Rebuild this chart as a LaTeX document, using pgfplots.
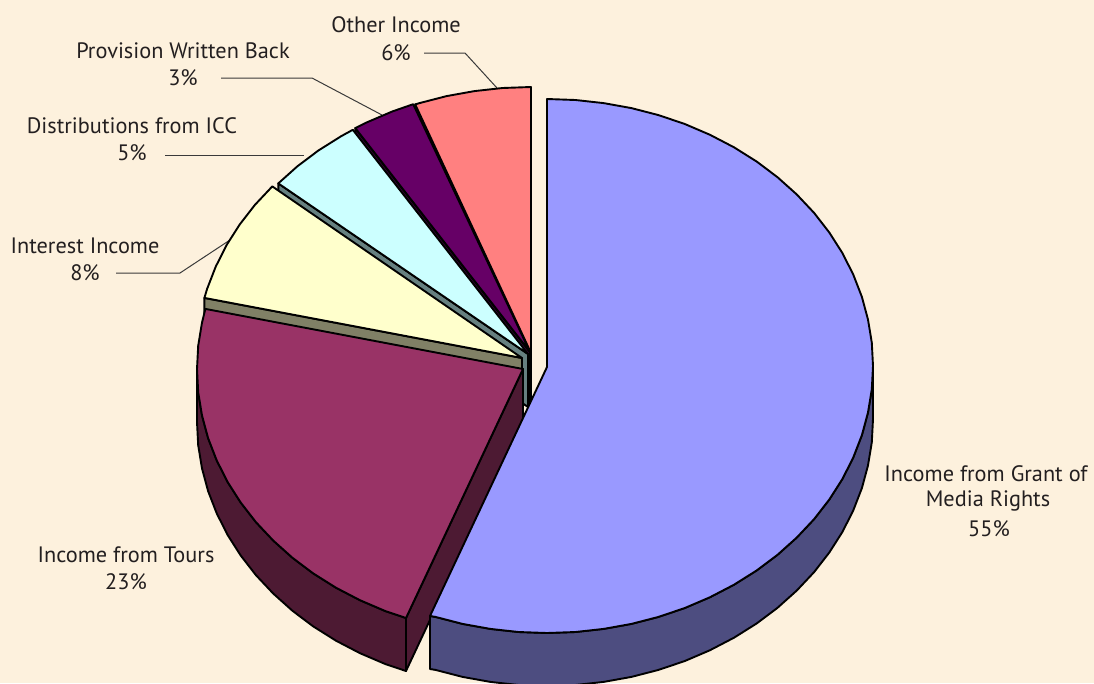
\documentclass[border=0pt]{standalone}
\usepackage{fontspec}
\setmainfont{PT Sans}
\usepackage{pgfplots}
\pgfplotsset{compat=1.18}
\definecolor{bg}{HTML}{FDF1DD}
\definecolor{txt}{HTML}{231F20}
\definecolor{otherT}{HTML}{FF8080}
\definecolor{otherS}{HTML}{804040}
\definecolor{provT}{HTML}{660066}
\definecolor{provS}{HTML}{330033}
\definecolor{distT}{HTML}{CCFFFF}
\definecolor{distS}{HTML}{668080}
\definecolor{intT}{HTML}{FFFFCC}
\definecolor{intS}{HTML}{808066}
\definecolor{tourT}{HTML}{993366}
\definecolor{tourS}{HTML}{4D1A33}
\definecolor{blueT}{HTML}{9999FF}
\definecolor{blueS}{HTML}{4D4D80}
\definecolor{lead}{HTML}{3A3A3A}
\tikzset{lab/.style={font=\fontsize{22.3}{26}\selectfont,text=txt,inner sep=0pt,anchor=center}}
\begin{document}
\begin{tikzpicture}
\fill[bg] (0,0) rectangle (1094pt,683pt);
\begin{axis}[at={(0,0)},anchor=south west,scale only axis,width=1094pt,height=683pt,
  xmin=0,xmax=1094,ymin=0,ymax=683,y dir=reverse,hide axis,
  every axis plot/.append style={line width=1.9pt,line join=round,no markers}]
% leader lines
\addplot[draw=lead,line width=1pt] coordinates {(424,53)(465,53)(497,88)};
\addplot[draw=lead,line width=1pt] coordinates {(221,78)(312,78)(382,115)};
\addplot[draw=lead,line width=1pt] coordinates {(165,155)(304,155)};
\addplot[draw=lead,line width=1pt] coordinates {(116,273)(180,273)(230,240)};
% Other Income
\addplot[fill=otherS,draw=black] coordinates {(415.2,104.4)(531,353)(531,406)(415.2,157.4)} -- cycle;
\addplot[fill=otherT,draw=black] coordinates {(531,353)(415.2,104.4)(419.5,103.1)(446.6,96.1)(474.4,91.1)(502.6,88)(531,87)} -- cycle;
% Provision Written Back
\addplot[fill=provS,draw=black] coordinates {(355.3,128.1)(530,352)(530,405)(355.3,181.1)} -- cycle;
\addplot[fill=provT,draw=black] coordinates {(530,352)(355.3,128.1)(367,122.3)(392.2,111.5)(413.2,104.2)} -- cycle;
% Distributions from ICC
\addplot[fill=distS,draw=black] coordinates {(278.3,183.4)(528,354)(528,407)(278.3,236.4)} -- cycle;
\addplot[fill=distT,draw=black] coordinates {(528,354)(278.3,183.4)(297.5,166.2)(318.4,150.5)(341,136.3)(352.8,129.8)} -- cycle;
% Interest Income
\addplot[fill=intS,draw=black] coordinates {(204.4,297.9)(522,358)(522,411)(204.4,350.9)} -- cycle;
\addplot[fill=intT,draw=black] coordinates {(522,358)(204.4,297.9)(207.1,288.9)(215.7,266.7)(226.5,245.2)(239.7,224.5)(254.9,204.9)(272.3,186.4)} -- cycle;
% Income from Tours
\addplot[fill=tourS,draw=black] coordinates {(523,369)(406,618)(406,671)(523,422)} -- cycle;
\addplot[fill=tourS,draw=black] coordinates {(406,618)(385.2,611)(360,600.2)(336,587.7)(313.4,573.5)(292.5,557.8)(273.3,540.6)(255.9,522.1)(240.7,502.5)(227.5,481.8)(216.7,460.3)(208.1,438.1)(202,415.4)(198.2,392.3)(197,369)
 (197,422)(198.2,445.3)(202,468.4)(208.1,491.1)(216.7,513.3)(227.5,534.8)(240.7,555.5)(255.9,575.1)(273.3,593.6)(292.5,610.8)(313.4,626.5)(336,640.7)(360,653.2)(385.2,664)(406,671)} -- cycle;
\addplot[fill=tourT,draw=black] coordinates {(523,369)(406,618)(385.2,611)(360,600.2)(336,587.7)(313.4,573.5)(292.5,557.8)(273.3,540.6)(255.9,522.1)(240.7,502.5)(227.5,481.8)(216.7,460.3)(208.1,438.1)(202,415.4)(198.2,392.3)(197,369)(198.2,345.7)(202,322.6)(205.4,308.9)} -- cycle;
% Income from Grant of Media Rights
\addplot[fill=blueS,draw=black] coordinates {(873,366)(871.8,389.3)(868,412.4)(861.9,435.1)(853.3,457.3)(842.5,478.8)(829.3,499.5)(814.1,519.1)(796.7,537.6)(777.5,554.8)(756.6,570.5)(734,584.7)(710,597.2)(684.8,608)(658.5,616.9)(631.4,623.9)(603.6,628.9)(575.4,632)(547,633)(518.6,632)(490.4,628.9)(462.6,623.9)(435.5,616.9)(430,616)
 (430,669)(435.5,669.9)(462.6,676.9)(490.4,681.9)(518.6,685)(547,686)(575.4,685)(603.6,681.9)(631.4,676.9)(658.5,669.9)(684.8,661)(710,650.2)(734,637.7)(756.6,623.5)(777.5,607.8)(796.7,590.6)(814.1,572.1)(829.3,552.5)(842.5,531.8)(853.3,510.3)(861.9,488.1)(868,465.4)(871.8,442.3)(873,419)} -- cycle;
\addplot[fill=blueT,draw=black] coordinates {(547,367)(547,99)(575.4,100)(603.6,103.1)(631.4,108.1)(658.5,115.1)(684.8,124)(710,134.8)(734,147.3)(756.6,161.5)(777.5,177.2)(796.7,194.4)(814.1,212.9)(829.3,232.5)(842.5,253.2)(853.3,274.7)(861.9,296.9)(868,319.6)(871.8,342.7)(873,366)(871.8,389.3)(868,412.4)(861.9,435.1)(853.3,457.3)(842.5,478.8)(829.3,499.5)(814.1,519.1)(796.7,537.6)(777.5,554.8)(756.6,570.5)(734,584.7)(710,597.2)(684.8,608)(658.5,616.9)(631.4,623.9)(603.6,628.9)(575.4,632)(547,633)(518.6,632)(490.4,628.9)(462.6,623.9)(435.5,616.9)(430,616)} -- cycle;
% labels
\node[lab] at (axis cs:396,25) {Other Income};
\node[lab] at (axis cs:396,53) {6\%};
\node[lab] at (axis cs:183,51) {Provision Written Back};
\node[lab] at (axis cs:183,78) {3\%};
\node[lab] at (axis cs:132,126) {Distributions from ICC};
\node[lab] at (axis cs:132,153) {5\%};
\node[lab] at (axis cs:85,246) {Interest Income};
\node[lab] at (axis cs:85,273) {8\%};
\node[lab] at (axis cs:126,555) {Income from Tours};
\node[lab] at (axis cs:126,582) {23\%};
\node[lab] at (axis cs:986,474) {Income from Grant of};
\node[lab] at (axis cs:988,501) {Media Rights};
\node[lab] at (axis cs:989,529) {55\%};
\end{axis}
\end{tikzpicture}
\end{document}
